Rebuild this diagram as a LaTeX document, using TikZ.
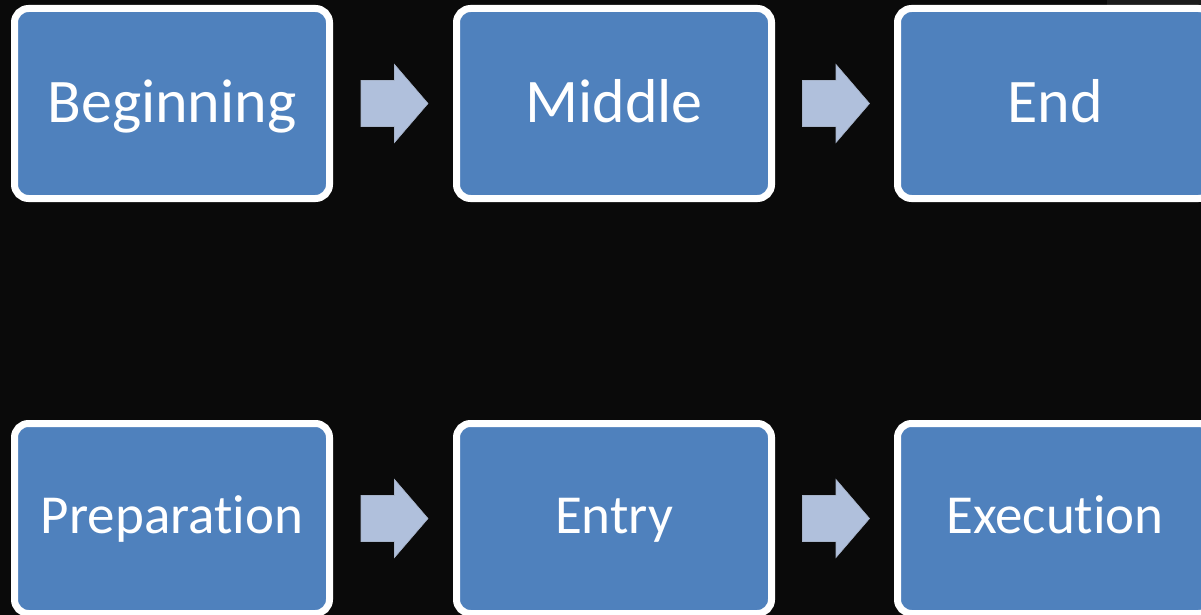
\documentclass[tikz,border=0pt]{standalone}
\usepackage{fontspec}
\setmainfont[RawFeature={-liga;-dlig}]{Carlito}
\usetikzlibrary{calc}
\definecolor{bg}{HTML}{0A0A0A}
\definecolor{boxblue}{HTML}{4F81BD}
\definecolor{arrowblue}{HTML}{B0C0DC}
\definecolor{smudge}{HTML}{1C1C1C}
\tikzset{
  stagebox/.style={draw=white, line width=7pt, fill=boxblue, rounded corners=14pt,
    minimum width=315pt, minimum height=190pt, inner sep=0pt, text=white,
    font=\fontsize{62}{70}\selectfont, text height=40pt, text depth=3pt},
  smalltext/.style={font=\fontsize{55}{62}\selectfont, text height=33pt, text depth=4pt},
  blockarrow/.style={fill=arrowblue, draw=arrowblue!80!gray, line width=0.6pt, line join=miter}
}
\newcommand\blockarrowat[1]{%
  \draw[blockarrow] ($(#1)+(-33.5,-23)$) -- ($(#1)+(0,-23)$) -- ($(#1)+(0,-39)$)
    -- ($(#1)+(33.5,0)$) -- ($(#1)+(0,39)$) -- ($(#1)+(0,23)$) -- ($(#1)+(-33.5,23)$) -- cycle;}
\begin{document}
\begin{tikzpicture}[x=1pt,y=-1pt]
\fill[bg] (0,0) rectangle (1201,615);
\useasboundingbox (0,0) rectangle (1201,615);
\fill[smudge] (1107,0) rectangle (1201,8);
\node[stagebox] (b1) at (172,103.5) {Beginning};
\node[stagebox] (b2) at (614,103.5) {Middle};
\node[stagebox] (b3) at (1055,103.5) {End};
\node[stagebox,smalltext] (c1) at (172,518.5) {Preparation};
\node[stagebox,smalltext] (c2) at (614,518.5) {Entry};
\node[stagebox,smalltext] (c3) at (1055,518.5) {Execution};
\coordinate (a1) at ($(b1.east)!0.5!(b2.west)+(1.5,0)$);
\coordinate (a2) at ($(b2.east)!0.5!(b3.west)+(1.5,0)$);
\coordinate (a3) at ($(c1.east)!0.5!(c2.west)+(1.5,0)$);
\coordinate (a4) at ($(c2.east)!0.5!(c3.west)+(1.5,0)$);
\blockarrowat{a1}
\blockarrowat{a2}
\blockarrowat{a3}
\blockarrowat{a4}
\end{tikzpicture}
\end{document}
